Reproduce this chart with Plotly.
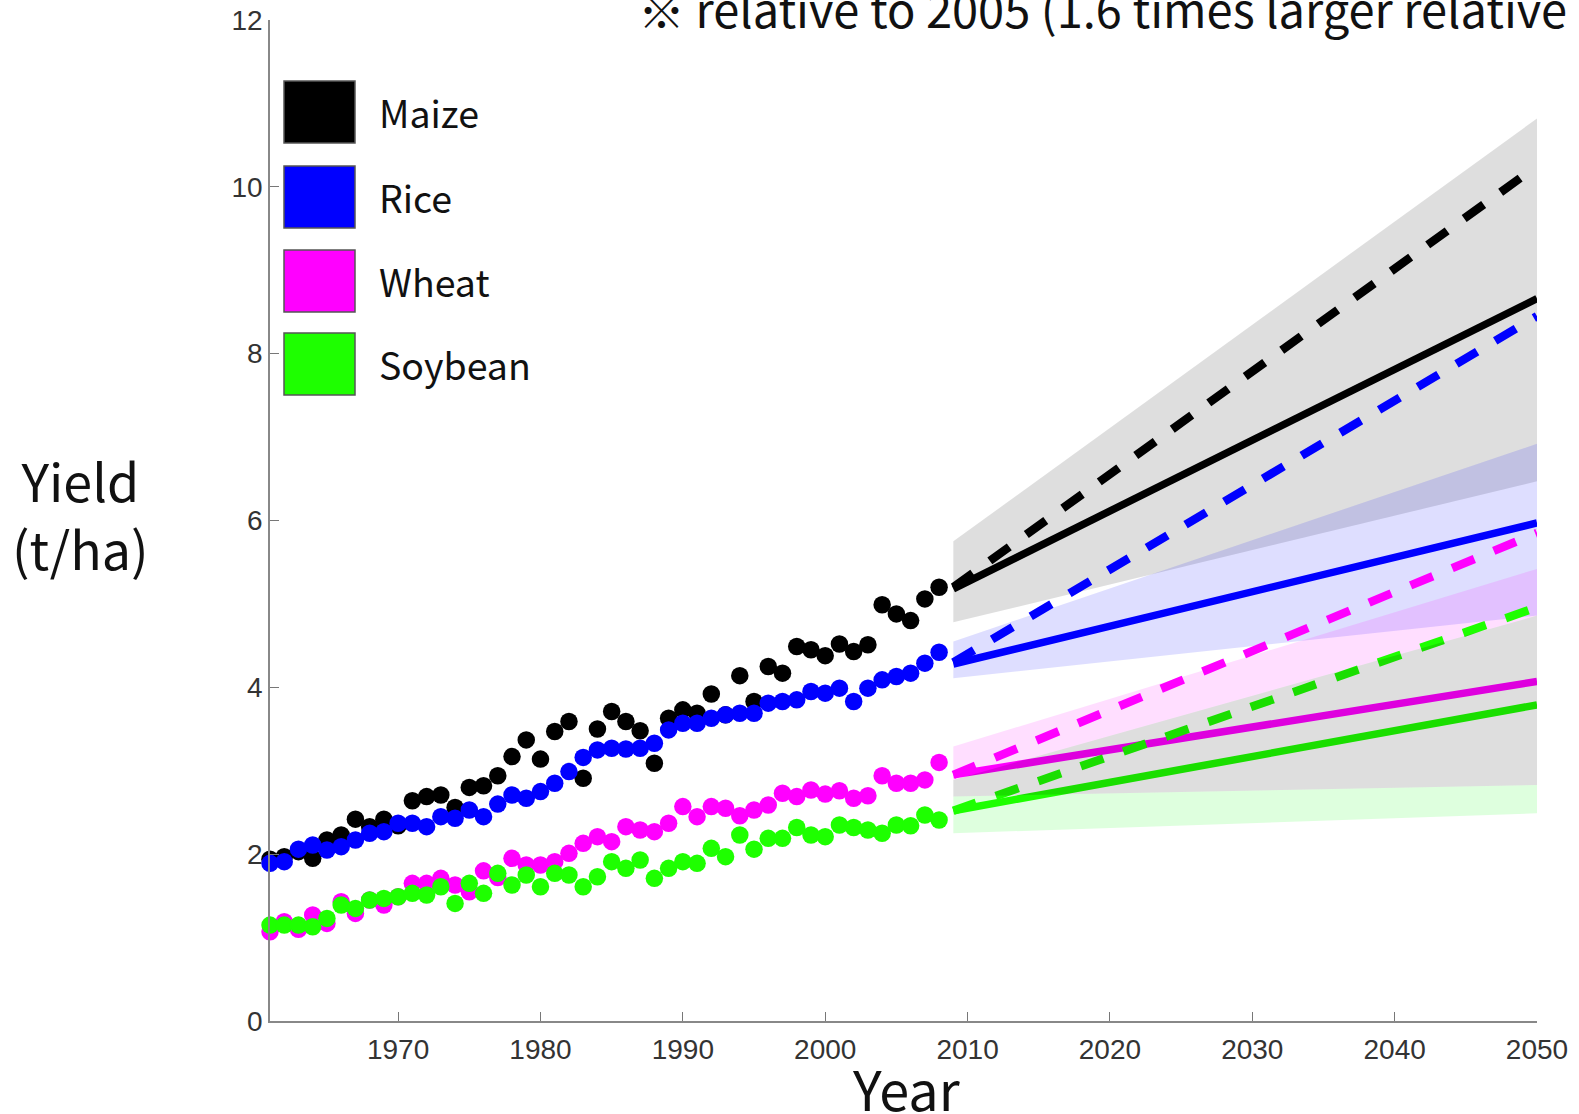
import plotly.graph_objects as go

# ---------------- data ----------------
years_obs = list(range(1961, 2009))

maize = [1.94, 1.97, 2.03, 1.95, 2.17, 2.23, 2.42, 2.33, 2.42, 2.34,
         2.64, 2.69, 2.71, 2.56, 2.80, 2.82, 2.94, 3.17, 3.37, 3.14,
         3.47, 3.59, 2.91, 3.50, 3.71, 3.59, 3.48, 3.09, 3.63, 3.73,
         3.69, 3.92, 3.67, 4.14, 3.83, 4.25, 4.17, 4.49, 4.45, 4.38,
         4.52, 4.43, 4.51, 4.99, 4.88, 4.80, 5.06, 5.20]
rice = [1.89, 1.91, 2.06, 2.11, 2.05, 2.09, 2.17, 2.25, 2.27, 2.37,
        2.37, 2.33, 2.45, 2.43, 2.53, 2.45, 2.60, 2.71, 2.67, 2.75,
        2.85, 2.99, 3.16, 3.25, 3.27, 3.26, 3.27, 3.33, 3.49, 3.57,
        3.57, 3.63, 3.67, 3.69, 3.69, 3.81, 3.83, 3.85, 3.95, 3.93,
        3.99, 3.83, 3.99, 4.09, 4.13, 4.17, 4.29, 4.42]
wheat = [1.07, 1.19, 1.10, 1.27, 1.17, 1.43, 1.29, 1.45, 1.39, 1.49,
         1.65, 1.65, 1.71, 1.63, 1.55, 1.80, 1.72, 1.95, 1.87, 1.87,
         1.91, 2.01, 2.13, 2.21, 2.15, 2.33, 2.29, 2.27, 2.37, 2.57,
         2.45, 2.57, 2.55, 2.46, 2.53, 2.59, 2.73, 2.69, 2.77, 2.72,
         2.76, 2.67, 2.70, 2.94, 2.85, 2.85, 2.89, 3.10]
soybean = [1.15, 1.15, 1.15, 1.13, 1.23, 1.39, 1.35, 1.45, 1.47, 1.49,
           1.53, 1.51, 1.61, 1.41, 1.65, 1.53, 1.77, 1.63, 1.75, 1.61,
           1.77, 1.75, 1.61, 1.73, 1.91, 1.83, 1.93, 1.71, 1.83, 1.91,
           1.89, 2.07, 1.97, 2.23, 2.06, 2.19, 2.19, 2.32, 2.23, 2.21,
           2.35, 2.32, 2.29, 2.25, 2.35, 2.34, 2.47, 2.41]

proj_years = [2009, 2050]
maize_trend = [5.18, 8.66]
maize_double = [5.20, 10.25]
rice_trend = [4.28, 5.97]
rice_double = [4.30, 8.45]
wheat_trend = [2.95, 4.07]
wheat_double = [2.95, 5.85]
soy_trend = [2.52, 3.79]
soy_double = [2.52, 4.96]

maize_band_lo = [4.78, 6.47]
maize_band_hi = [5.75, 10.82]
rice_band_lo = [4.11, 4.86]
rice_band_hi = [4.55, 6.92]
wheat_band_lo = [2.89, 4.86]
wheat_band_hi = [3.29, 5.42]
gray_band_lo = [2.69, 2.83]
gray_band_hi = [2.89, 4.86]
soy_band_lo = [2.25, 2.49]
soy_band_hi = [2.69, 2.83]

crops = ["Maize", "Rice", "Wheat", "Soybean"]
colors = ["#000000", "#0000ff", "#ff00ff", "#1eff00"]
x_ticks = [1970, 1980, 1990, 2000, 2010, 2020, 2030, 2040, 2050]
y_ticks = [0, 2, 4, 6, 8, 10, 12]

# ---------------- figure ----------------
W_FIG, H_FIG = 1579, 1114
L, R, T, B = 270, 42, 20, 93
PW, PH = W_FIG - L - R, H_FIG - T - B


def px(x):
    return (x - L) / PW


def py(y):
    return (T + PH - y) / PH


fig = go.Figure()


def band(lo, hi, color):
    fig.add_trace(go.Scatter(
        x=proj_years + proj_years[::-1], y=lo + hi[::-1],
        fill="toself", fillcolor=color, mode="lines",
        line=dict(width=0), hoverinfo="skip", showlegend=False))


band(maize_band_lo, maize_band_hi, "rgba(0,0,0,0.13)")
band(rice_band_lo, rice_band_hi, "rgba(0,0,255,0.13)")
band(wheat_band_lo, wheat_band_hi, "rgba(255,0,255,0.13)")
band(soy_band_lo, soy_band_hi, "rgba(0,255,0,0.13)")

trends = [maize_trend, rice_trend, wheat_trend, soy_trend]
doubles = [maize_double, rice_double, wheat_double, soy_double]
for c, tr, db in zip(colors, trends, doubles):
    fig.add_trace(go.Scatter(x=proj_years, y=db, mode="lines",
                             line=dict(color=c, width=8.5, dash="24px,21px"),
                             showlegend=False))
    fig.add_trace(go.Scatter(x=proj_years, y=tr, mode="lines",
                             line=dict(color=c, width=7.5), showlegend=False))

band(gray_band_lo, gray_band_hi, "rgba(0,0,0,0.13)")

for name, c, vals in zip(crops, colors, [maize, rice, wheat, soybean]):
    fig.add_trace(go.Scatter(x=years_obs, y=vals, mode="markers", name=name,
                             marker=dict(color=c, size=17.5, line=dict(width=0)),
                             cliponaxis=False, showlegend=False))

axis_common = dict(ticks="inside", ticklen=9, tickcolor="#777", tickwidth=1,
                   showline=True, linecolor="#888", linewidth=1.5,
                   showgrid=False, zeroline=False,
                   tickfont=dict(family="Liberation Sans", size=28, color="#333"))

fig.update_xaxes(range=[1961, 2050], tickvals=x_ticks, ticklabelstandoff=3,
                 **axis_common)
fig.update_yaxes(range=[0, 12], tickvals=y_ticks, **axis_common)

annotations = []
shapes = []
# legend
leg_top = [81, 166, 250, 333]
for name, c, top in zip(crops, colors, leg_top):
    shapes.append(dict(type="rect", xref="paper", yref="paper",
                       x0=px(284), x1=px(355), y0=py(top), y1=py(top + 62),
                       fillcolor=c, line=dict(color="#555", width=1.5)))
    annotations.append(dict(text=name, xref="paper", yref="paper",
                            x=px(377), y=py(top + 30), xanchor="left", yanchor="middle",
                            showarrow=False,
                            font=dict(family="Noto Sans CJK JP", size=37.5, color="#111")))

annotations.append(dict(text="Yield<br>(t/ha)", xref="paper", yref="paper",
                        x=px(80), y=py(513), xanchor="center", yanchor="middle",
                        showarrow=False,
                        font=dict(family="Noto Sans CJK JP", size=52, color="#111")))
annotations.append(dict(text="Year", xref="paper", yref="paper",
                        x=px(906), y=py(1087), xanchor="center", yanchor="middle",
                        showarrow=False,
                        font=dict(family="Noto Sans CJK JP", size=54, color="#111")))
annotations.append(dict(text="※ relative to 2005 (1.6 times larger relative",
                        xref="paper", yref="paper",
                        x=px(636), y=py(7), xanchor="left", yanchor="middle",
                        showarrow=False,
                        font=dict(family="Noto Sans CJK JP", size=47, color="#111")))

fig.update_layout(width=W_FIG, height=H_FIG,
                  margin=dict(l=L, r=R, t=T, b=B, autoexpand=False),
                  paper_bgcolor="white", plot_bgcolor="white",
                  showlegend=False, annotations=annotations, shapes=shapes)

fig.write_html("out.html")
